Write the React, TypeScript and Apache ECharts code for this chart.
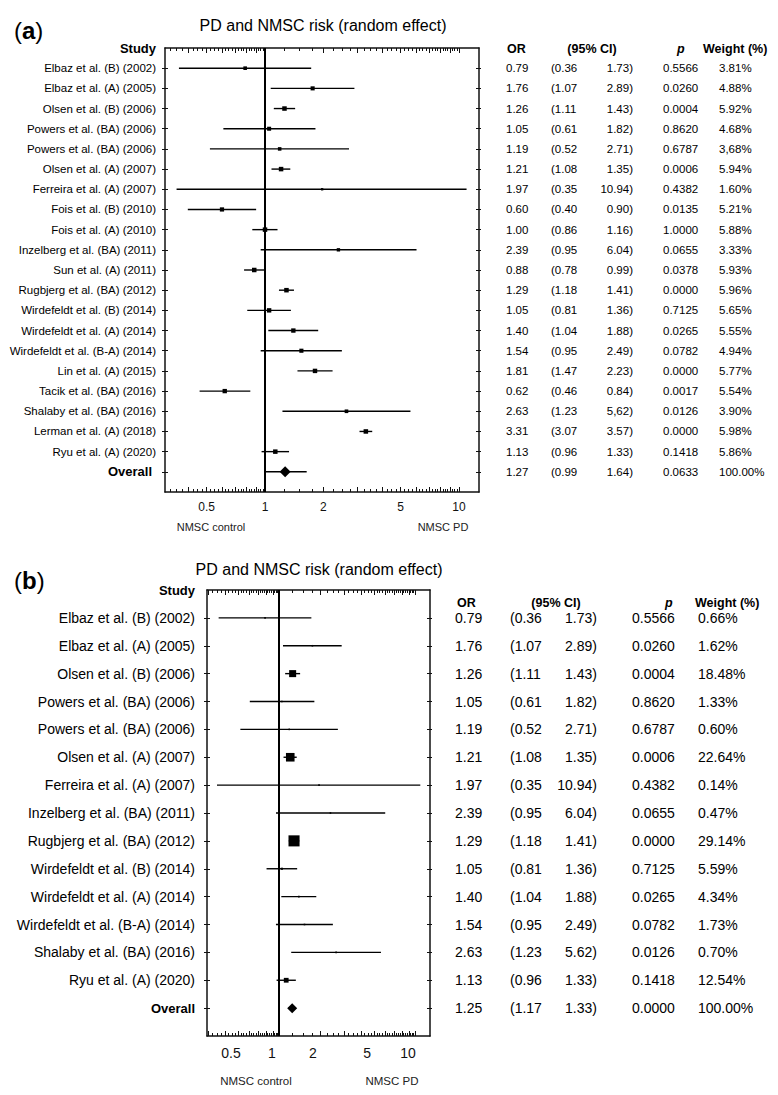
import React, { useEffect, useRef } from "react";
import * as echarts from "echarts";

const FONT = '"Liberation Sans", Arial, Helvetica, sans-serif';

// ---------- Panel (a) data ----------
const studiesA = [
  "Elbaz et al. (B) (2002)",
  "Elbaz et al. (A) (2005)",
  "Olsen et al. (B) (2006)",
  "Powers et al. (BA) (2006)",
  "Powers et al. (BA) (2006)",
  "Olsen et al. (A) (2007)",
  "Ferreira et al. (A) (2007)",
  "Fois et al. (B) (2010)",
  "Fois et al. (A) (2010)",
  "Inzelberg et al. (BA) (2011)",
  "Sun et al. (A) (2011)",
  "Rugbjerg et al. (BA) (2012)",
  "Wirdefeldt et al. (B) (2014)",
  "Wirdefeldt et al. (A) (2014)",
  "Wirdefeldt et al. (B-A) (2014)",
  "Lin et al. (A) (2015)",
  "Tacik et al. (BA) (2016)",
  "Shalaby et al. (BA) (2016)",
  "Lerman et al. (A) (2018)",
  "Ryu et al. (A) (2020)",
  "Overall",
];
const orA = [0.79, 1.76, 1.26, 1.05, 1.19, 1.21, 1.97, 0.6, 1.0, 2.39, 0.88, 1.29, 1.05, 1.4, 1.54, 1.81, 0.62, 2.63, 3.31, 1.13, 1.27];
const loA = [0.36, 1.07, 1.11, 0.61, 0.52, 1.08, 0.35, 0.4, 0.86, 0.95, 0.78, 1.18, 0.81, 1.04, 0.95, 1.47, 0.46, 1.23, 3.07, 0.96, 0.99];
const hiA = [1.73, 2.89, 1.43, 1.82, 2.71, 1.35, 10.94, 0.9, 1.16, 6.04, 0.99, 1.41, 1.36, 1.88, 2.49, 2.23, 0.84, 5.62, 3.57, 1.33, 1.64];
const pA = ["0.5566", "0.0260", "0.0004", "0.8620", "0.6787", "0.0006", "0.4382", "0.0135", "1.0000", "0.0655", "0.0378", "0.0000", "0.7125", "0.0265", "0.0782", "0.0000", "0.0017", "0.0126", "0.0000", "0.1418", "0.0633"];
const weightA = ["3.81%", "4.88%", "5.92%", "4.68%", "3,68%", "5.94%", "1.60%", "5.21%", "5.88%", "3.33%", "5.93%", "5.96%", "5.65%", "5.55%", "4.94%", "5.77%", "5.54%", "3.90%", "5.98%", "5.86%", "100.00%"];
const hiTextA = hiA.map((v) => v.toFixed(2));
hiTextA[17] = "5,62";

// ---------- Panel (b) data ----------
const studiesB = [
  "Elbaz et al. (B) (2002)",
  "Elbaz et al. (A) (2005)",
  "Olsen et al. (B) (2006)",
  "Powers et al. (BA) (2006)",
  "Powers et al. (BA) (2006)",
  "Olsen et al. (A) (2007)",
  "Ferreira et al. (A) (2007)",
  "Inzelberg et al. (BA) (2011)",
  "Rugbjerg et al. (BA) (2012)",
  "Wirdefeldt et al. (B) (2014)",
  "Wirdefeldt et al. (A) (2014)",
  "Wirdefeldt et al. (B-A) (2014)",
  "Shalaby et al. (BA) (2016)",
  "Ryu et al. (A) (2020)",
  "Overall",
];
const orB = [0.79, 1.76, 1.26, 1.05, 1.19, 1.21, 1.97, 2.39, 1.29, 1.05, 1.4, 1.54, 2.63, 1.13, 1.25];
const loB = [0.36, 1.07, 1.11, 0.61, 0.52, 1.08, 0.35, 0.95, 1.18, 0.81, 1.04, 0.95, 1.23, 0.96, 1.17];
const hiB = [1.73, 2.89, 1.43, 1.82, 2.71, 1.35, 10.94, 6.04, 1.41, 1.36, 1.88, 2.49, 5.62, 1.33, 1.33];
const pB = ["0.5566", "0.0260", "0.0004", "0.8620", "0.6787", "0.0006", "0.4382", "0.0655", "0.0000", "0.7125", "0.0265", "0.0782", "0.0126", "0.1418", "0.0000"];
const weightB = ["0.66%", "1.62%", "18.48%", "1.33%", "0.60%", "22.64%", "0.14%", "0.47%", "29.14%", "5.59%", "4.34%", "1.73%", "0.70%", "12.54%", "100.00%"];
const hiTextB = hiB.map((v) => v.toFixed(2));

const tickLabels = [0.5, 1, 2, 5, 10];
const headerCols = ["OR", "(95% CI)", "p", "Weight (%)"];
const titleText = "PD and NMSC risk (random effect)";

// axis tick positions (log axis, 0.3..10)
const minorTicks: number[] = [];
for (let k = 12; k <= 40; k++) if (k % 4 !== 0) minorTicks.push(+(k * 0.025).toFixed(3));
for (let k = 4; k <= 40; k++) if (k % 4 !== 0) minorTicks.push(+(k * 0.25).toFixed(3));
const majorTicks = [0.3, 0.4, 0.5, 0.6, 0.7, 0.8, 0.9, 1, 2, 3, 4, 5, 6, 7, 8, 9, 10];

const num = (s: string) => parseFloat(s.replace(",", ".").replace("%", ""));

type PanelCfg = {
  studies: string[];
  or: number[];
  lo: number[];
  hi: number[];
  p: string[];
  weight: string[];
  hiText: string[];
  grid: { left: number; top: number; width: number; height: number };
  xmin: number;
  xmax: number;
  labelSize: number;
  labelMargin: number;
  tickLabelSize: number;
  tickLabelMargin: number;
  tickLabelPad: number[];
  tableSize: number;
  cols: { or: number; lo: number; hi: number; p: number; w: number };
  size: (w: number) => number;
  diamond: number;
  lineWidth: number;
  overallPad: number;
};

const black = "#000";
const axisColor = "#111";

function buildX(gi: number, c: PanelCfg) {
  const lineOn = { show: true, onZero: false, lineStyle: { color: axisColor, width: 1.5 } };
  const lineOff = { show: false, onZero: false };
  const base: any = {
    type: "log",
    logBase: 10,
    gridIndex: gi,
    min: c.xmin,
    max: c.xmax,
    splitLine: { show: false },
  };
  const tickStyle = { color: axisColor, width: 1 };
  return [
    {
      ...base,
      position: "bottom",
      axisLine: lineOn,
      axisTick: { show: true, inside: true, length: 3, customValues: minorTicks, lineStyle: tickStyle },
      axisLabel: {
        show: true,
        customValues: tickLabels,
        formatter: (v: number) => String(+v.toFixed(2)),
        fontSize: c.tickLabelSize,
        fontFamily: FONT,
        color: "#111",
        margin: c.tickLabelMargin,
        padding: c.tickLabelPad,
      },
    },
    {
      ...base,
      position: "bottom",
      axisLine: lineOff,
      axisTick: { show: true, inside: true, length: 5, customValues: majorTicks, lineStyle: tickStyle },
      axisLabel: { show: false },
    },
    {
      ...base,
      position: "top",
      axisLine: lineOn,
      axisTick: { show: true, inside: true, length: 3, customValues: minorTicks, lineStyle: tickStyle },
      axisLabel: { show: false },
    },
    {
      ...base,
      position: "top",
      axisLine: lineOff,
      axisTick: { show: true, inside: true, length: 5, customValues: majorTicks, lineStyle: tickStyle },
      axisLabel: { show: false },
    },
  ];
}

function buildY(gi: number, c: PanelCfg) {
  const n = c.studies.length;
  const rows = c.studies.map((_, i) => i);
  const lineOn = { show: true, onZero: false, lineStyle: { color: axisColor, width: 1.5 } };
  const lineOff = { show: false, onZero: false };
  const base: any = {
    type: "value",
    gridIndex: gi,
    min: -1,
    max: n,
    inverse: true,
    splitLine: { show: false },
  };
  const tickStyle = { color: axisColor, width: 1 };
  return [
    {
      ...base,
      position: "left",
      axisLine: lineOn,
      axisTick: { show: true, inside: false, length: 3, customValues: rows, lineStyle: tickStyle },
      axisLabel: {
        show: true,
        customValues: [-1, ...rows],
        margin: c.labelMargin,
        fontSize: c.labelSize,
        fontFamily: FONT,
        color: black,
        formatter: (v: number) => {
          const i = Math.round(v);
          if (i === -1) return "{h|Study}";
          if (i === n - 1) return "{o|" + c.studies[i] + "}";
          return c.studies[i];
        },
        rich: {
          h: { fontSize: 13, fontWeight: "bold", fontFamily: FONT, color: black },
          o: { fontSize: 13, fontWeight: "bold", fontFamily: FONT, color: black, padding: [0, c.overallPad, 0, 0] },
        },
      },
    },
    {
      ...base,
      position: "left",
      axisLine: lineOff,
      axisTick: { show: true, inside: true, length: 3, customValues: rows, lineStyle: tickStyle },
      axisLabel: { show: false },
    },
    {
      ...base,
      position: "right",
      axisLine: lineOn,
      axisTick: { show: true, inside: true, length: 3, customValues: rows, lineStyle: tickStyle },
      axisLabel: { show: false },
    },
    {
      ...base,
      position: "right",
      axisLine: lineOff,
      axisTick: { show: true, inside: false, length: 2, customValues: rows, lineStyle: tickStyle },
      axisLabel: { show: false },
    },
  ];
}

function forestSeries(gi: number, c: PanelCfg) {
  const n = c.studies.length;
  const data = c.studies.map((_, i) => [c.or[i], c.lo[i], c.hi[i], i, num(c.weight[i]), i === n - 1 ? 1 : 0]);
  return {
    type: "custom",
    xAxisIndex: gi * 4,
    yAxisIndex: gi * 4,
    encode: { x: [0, 1, 2], y: 3 },
    data,
    clip: false,
    z: 5,
    renderItem: (params: any, api: any) => {
      const or = api.value(0);
      const lo = api.value(1);
      const hi = api.value(2);
      const row = api.value(3);
      const w = api.value(4);
      const ov = api.value(5);
      const ctr = api.coord([or, row]);
      const l = api.coord([lo, row]);
      const h = api.coord([hi, row]);
      const children: any[] = [
        {
          type: "line",
          shape: { x1: l[0], y1: ctr[1], x2: h[0], y2: ctr[1] },
          style: { stroke: black, lineWidth: c.lineWidth },
        },
      ];
      if (ov) {
        const r = c.diamond / 2;
        children.push({
          type: "polygon",
          shape: {
            points: [
              [ctr[0] - r, ctr[1]],
              [ctr[0], ctr[1] - r],
              [ctr[0] + r, ctr[1]],
              [ctr[0], ctr[1] + r],
            ],
          },
          style: { fill: black },
        });
      } else {
        const s = c.size(w);
        children.push({
          type: "rect",
          shape: { x: ctr[0] - s / 2, y: ctr[1] - s / 2, width: s, height: s },
          style: { fill: black },
        });
      }
      return { type: "group", children };
    },
    markLine: {
      silent: true,
      symbol: ["none", "none"],
      label: { show: false },
      lineStyle: { color: black, width: 2, type: "solid" },
      data: [{ xAxis: 1 }],
    },
  };
}

function txt(text: string, x: number, y: number, size: number, align: string, extra: any = {}) {
  return {
    type: "text",
    x,
    y,
    style: {
      text,
      fontSize: size,
      fontFamily: FONT,
      fill: black,
      textAlign: align,
      align,
      textVerticalAlign: "middle",
      verticalAlign: "middle",
      ...extra,
    },
  };
}

function tableSeries(gi: number, c: PanelCfg) {
  const data = c.studies.map((_, i) => [1, i]);
  return {
    type: "custom",
    xAxisIndex: gi * 4,
    yAxisIndex: gi * 4,
    encode: { x: 0, y: 1 },
    data,
    clip: false,
    renderItem: (params: any, api: any) => {
      const i = params.dataIndex;
      const y = api.coord([1, api.value(1)])[1];
      const s = c.tableSize;
      return {
        type: "group",
        children: [
          txt(c.or[i].toFixed(2), c.cols.or, y, s, "left"),
          txt("(" + c.lo[i].toFixed(2), c.cols.lo, y, s, "left"),
          txt(c.hiText[i] + ")", c.cols.hi, y, s, "right"),
          txt(c.p[i], c.cols.p, y, s, "left"),
          txt(c.weight[i], c.cols.w, y, s, "left"),
        ],
      };
    },
  };
}

const panelA: PanelCfg = {
  studies: studiesA,
  or: orA,
  lo: loA,
  hi: hiA,
  p: pA,
  weight: weightA,
  hiText: hiTextA,
  grid: { left: 165, top: 48, width: 314, height: 444 },
  xmin: 0.3051,
  xmax: 12.68,
  labelSize: 11.5,
  labelMargin: 9,
  tickLabelSize: 12,
  tickLabelMargin: 9,
  tickLabelPad: [0, 0, 0, 0],
  tableSize: 11.5,
  cols: { or: 506, lo: 551, hi: 633, p: 663, w: 719 },
  size: (w) => 1.85 * Math.sqrt(w),
  diamond: 11,
  lineWidth: 1.4,
  overallPad: 4,
};

const panelB: PanelCfg = {
  studies: studiesB,
  or: orB,
  lo: loB,
  hi: hiB,
  p: pB,
  weight: weightB,
  hiText: hiTextB,
  grid: { left: 207, top: 590, width: 223, height: 446 },
  xmin: 0.2956,
  xmax: 12.89,
  labelSize: 14,
  labelMargin: 12,
  tickLabelSize: 14,
  tickLabelMargin: 10,
  tickLabelPad: [0, 14, 0, 0],
  tableSize: 14,
  cols: { or: 455, lo: 510, hi: 597, p: 632, w: 698 },
  size: (w) => Math.max(1.6, 0.38 * w),
  diamond: 10,
  lineWidth: 1.4,
  overallPad: 0,
};

function headerGraphics(y: number, size: number, xs: { or: number; ci: number; p: number; w: number }) {
  const b = { fontWeight: "bold" };
  return [
    txt(headerCols[0], xs.or, y, size, "left", b),
    txt(headerCols[1], xs.ci, y, size, "center", b),
    txt(headerCols[2], xs.p, y, size, "left", { fontWeight: "bold", fontStyle: "italic" }),
    txt(headerCols[3], xs.w, y, size, "left", b),
  ];
}

function panelLetter(letter: string, x: number, y: number) {
  return {
    type: "text",
    x,
    y,
    style: {
      text: "({b|" + letter + "})",
      fontSize: 24,
      fontFamily: FONT,
      fill: black,
      textAlign: "left",
      align: "left",
      textVerticalAlign: "middle",
      verticalAlign: "middle",
      rich: { b: { fontSize: 24, fontWeight: "bold", fontFamily: FONT, fill: black, color: black } },
    },
  };
}

export default function App() {
  const ref = useRef<HTMLDivElement>(null);
  useEffect(() => {
    document.body.style.margin = "0";
    if (!ref.current) return;
    const chart = echarts.init(ref.current, null, { renderer: "svg" });
    const option: any = {
      animation: false,
      backgroundColor: "#fff",
      grid: [
        { ...panelA.grid, containLabel: false },
        { ...panelB.grid, containLabel: false },
      ],
      xAxis: [...buildX(0, panelA), ...buildX(1, panelB)],
      yAxis: [...buildY(0, panelA), ...buildY(1, panelB)],
      series: [forestSeries(0, panelA), tableSeries(0, panelA), forestSeries(1, panelB), tableSeries(1, panelB)],
      graphic: [
        panelLetter("a", 14, 30),
        txt(titleText, 323, 25, 16, "center"),
        ...headerGraphics(49, 12.5, { or: 507, ci: 592, p: 677, w: 703 }),
        txt("NMSC control", 211, 527, 11, "center", { fill: "#222" }),
        txt("NMSC PD", 443, 527, 11, "center", { fill: "#222" }),
        panelLetter("b", 14, 580),
        txt(titleText, 319, 569, 16, "center"),
        ...headerGraphics(603, 12.5, { or: 457, ci: 556, p: 665, w: 695 }),
        txt("NMSC control", 256, 1081, 11.5, "center", { fill: "#222" }),
        txt("NMSC PD", 392, 1081, 11.5, "center", { fill: "#222" }),
      ],
    };
    chart.setOption(option);
    return () => chart.dispose();
  }, []);
  return <div ref={ref} style={{ width: 778, height: 1095 }} />;
}
